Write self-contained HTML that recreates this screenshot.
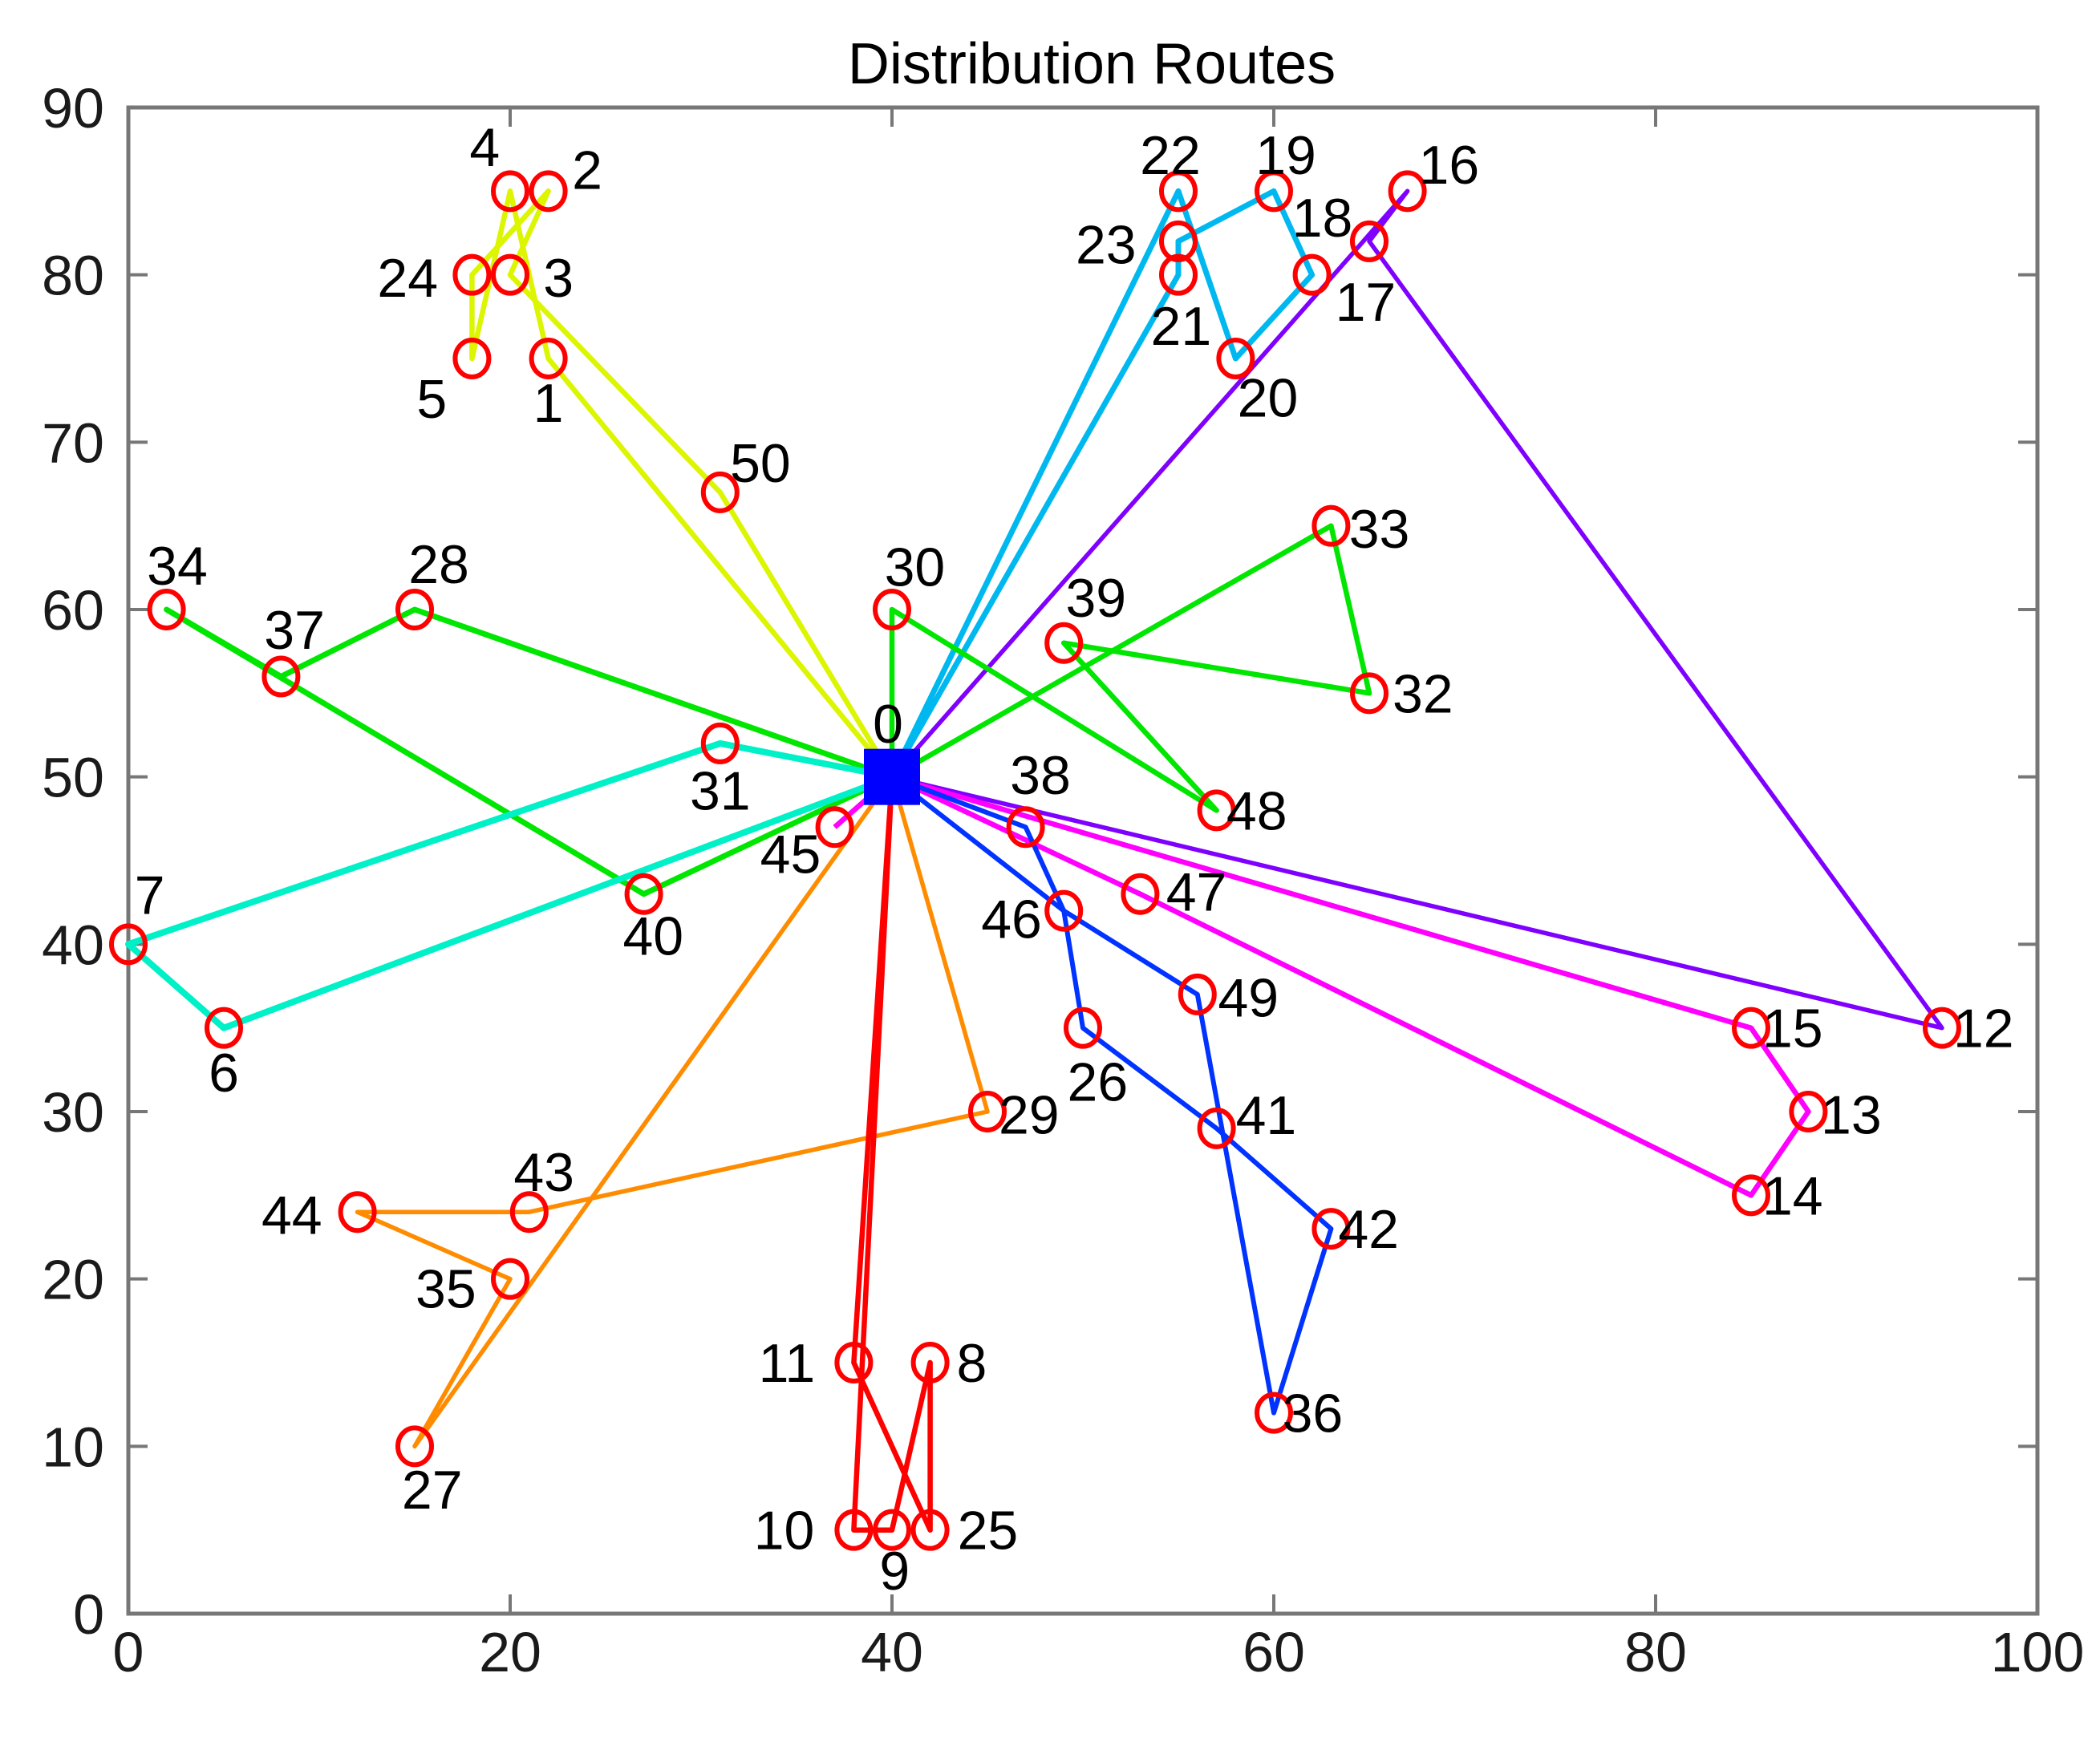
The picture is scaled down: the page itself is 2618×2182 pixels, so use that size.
<!DOCTYPE html>
<html><head><meta charset="utf-8"><style>
html,body{margin:0;padding:0;background:#fff;}
svg{display:block;font-family:"Liberation Sans",Arial,sans-serif;}
</style></head><body>
<svg id="chart" width="2618" height="2182" viewBox="0 0 2618 2182">
<rect width="2618" height="2182" fill="#fff"/>
<text x="1361" y="104" font-size="72" text-anchor="middle" fill="#000">Distribution Routes</text>
<g id="axes"></g>
<g id="routes"></g>
<g id="nodes"></g>
</svg>
<script>
const xTicks=[0,20,40,60,80,100];
const yTicks=[0,10,20,30,40,50,60,70,80,90];
const nodeX=[40,22,22,20,20,18,5,0,42,40,38,38,95,88,85,85,67,62,65,60,58,55,55,55,18,42,50,15,15,45,40,31,65,63,2,20,60,8,47,49,27,57,63,21,12,37,49,53,57,56,31];
const nodeY=[50,75,85,80,85,75,35,40,15,5,5,15,35,30,25,35,85,80,82,85,75,80,85,82,80,5,35,10,60,30,60,52,55,65,60,20,12,56,47,58,43,29,23,24,24,47,42,43,48,37,67];
const routeYellow=[0,50,3,2,24,5,4,1,0];
const routeCyan=[0,22,20,17,19,23,21,0];
const routePurple=[0,16,18,12,0];
const routeGreenA=[0,30,48,39,32,33,0];
const routeGreenB=[0,28,37,34,40,0];
const routeTeal=[0,31,7,6,0];
const routeMagenta=[45,0,47,14,13,15,0];
const routeBlue=[0,38,46,26,41,42,36,49,46,0];
const routeOrange=[0,29,43,44,35,27,0];
const routeRed=[0,11,25,8,9,10,0];
const labelDX=[-3,0,29,36,-19,-30,0,16,31,2,-52,-50,31,32,31,31,31,40,-35,9,24,2,-6,-54,-48,43,11,13,18,31,17,0,40,36,8,-48,29,10,11,24,7,37,28,11,-49,-33,-39,42,30,38,30];
const labelDY=[-40,33,-16,2,-33,30,33,-37,0,30,0,0,0,2,0,0,-20,20,-18,-27,29,38,-27,2,2,0,40,32,-34,2,-32,35,0,2,-33,7,0,-35,-39,-34,31,-10,0,-30,2,20,6,-2,0,2,-22];

const L=160,R=2540,T=134,B=2012;
const sx=v=>L+(v-0)/(100-0)*(R-L);
const sy=v=>B-(v-0)/(90-0)*(B-T);
const K=1.67;
const NS='http://www.w3.org/2000/svg';
function mk(tag,attrs,parent){const e=document.createElementNS(NS,tag);for(const k in attrs)e.setAttribute(k,attrs[k]);parent.appendChild(e);return e;}
const axes=document.getElementById('axes');
const box=mk('rect',{x:L,y:T,width:R-L,height:B-T,fill:'none',stroke:'#777','stroke-width':5},axes);


xTicks.forEach(v=>{
  const x=sx(v);
  const t1=mk('line',{x1:x,y1:B,x2:x,y2:B-24,stroke:'#777','stroke-width':4},axes);
  
  
  const t2=mk('line',{x1:x,y1:T,x2:x,y2:T+24,stroke:'#777','stroke-width':4},axes);
  
  
  const tx=mk('text',{x:x,y:B+72,'font-size':70,'text-anchor':'middle',fill:'#1a1a1a'},axes);
  tx.textContent=v;
  
  
});
yTicks.forEach(v=>{
  const y=sy(v);
  const t1=mk('line',{x1:L,y1:y,x2:L+24,y2:y,stroke:'#777','stroke-width':4},axes);
  
  
  const t2=mk('line',{x1:R,y1:y,x2:R-24,y2:y,stroke:'#777','stroke-width':4},axes);
  
  
  const tx=mk('text',{x:L-30,y:y+25,'font-size':70,'text-anchor':'end',fill:'#1a1a1a'},axes);
  tx.textContent=v;
  
  
});
const routesG=document.getElementById('routes');
const routeDefs=[[routeYellow,'#dcf500',6.5,'route-yellow'],[routeCyan,'#00b8f0',7,'route-cyan'],[routePurple,'#7f00ff',5.5,'route-purple'],[routeGreenA,'#00e600',6.5,'route-green-a'],[routeGreenB,'#00e600',7,'route-green-b'],[routeTeal,'#00f0c8',8,'route-teal'],[routeMagenta,'#ff00ff',6.5,'route-magenta'],[routeBlue,'#0033ff',6,'route-blue'],[routeOrange,'#ff8c00',5.5,'route-orange'],[routeRed,'#ff0000',6.5,'route-red']];
routeDefs.forEach(d=>{
  const pts=d[0].map(i=>sx(nodeX[i]).toFixed(1)+','+sy(nodeY[i]).toFixed(1)).join(' ');
  const p=mk('polyline',{points:pts,fill:'none',stroke:d[1],'stroke-width':d[2],'stroke-linejoin':'round'},routesG);
  
  
});
const nodesG=document.getElementById('nodes');
nodeX.forEach((vx,i)=>{
  const x=sx(vx),y=sy(nodeY[i]);
  if(i===0){
    const s=mk('rect',{x:x-35,y:y-35,width:70,height:70,fill:'#0000ff'},nodesG);
    
    
  } else {
    const c=mk('ellipse',{cx:x,cy:y,rx:21,ry:23,fill:'none',stroke:'#ff0000','stroke-width':6},nodesG);
    
    
  }
  const t=mk('text',{x:x+labelDX[i]*K,y:y+labelDY[i]*K+24,'font-size':68,'text-anchor':'middle',fill:'#000'},nodesG);
  t.textContent=i;
  
  
});
</script>
</body></html>
